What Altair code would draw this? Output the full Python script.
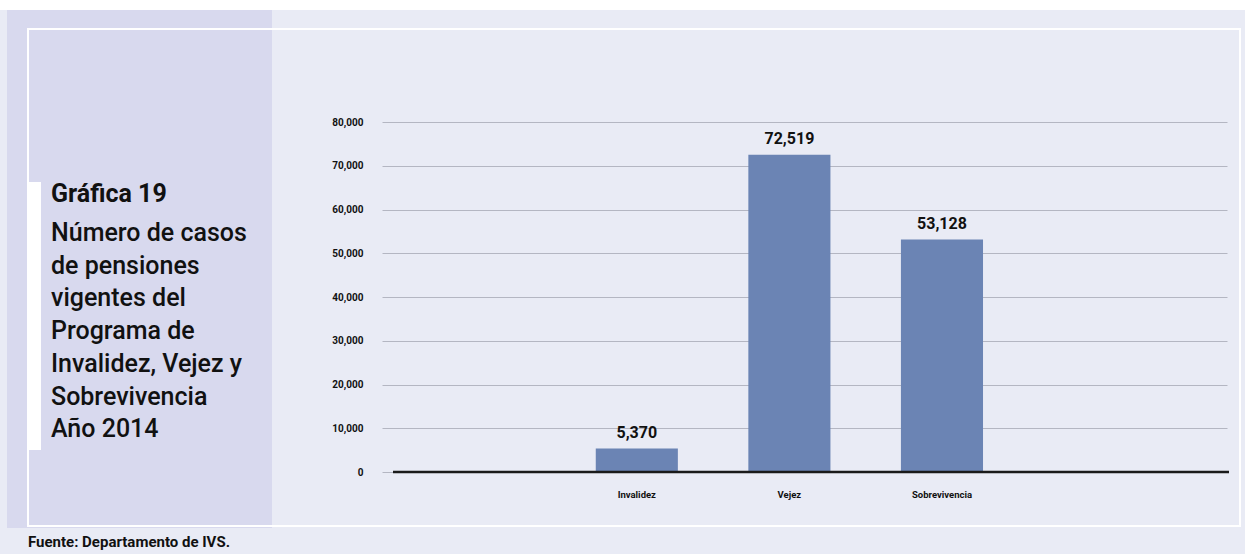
import altair as alt
import pandas as pd

categories = ["Invalidez", "Vejez", "Sobrevivencia"]
values = [5370, 72519, 53128]
x_domain = [" "] + categories + ["  "]
y_ticks = [0, 10000, 20000, 30000, 40000, 50000, 60000, 70000, 80000]
title_main = "Gráfica 19"
title_lines = ["Número de casos", "de pensiones", "vigentes del", "Programa de",
               "Invalidez, Vejez y", "Sobrevivencia", "Año 2014"]
footer = "Fuente: Departamento de IVS."

df = pd.DataFrame({"cat": categories, "val": values})
one = pd.DataFrame({"k": [0]})

NARROW = "Roboto"
W, H = 845, 350
L, T = 382, 122

def px(x):
    return x - L

def py(y):
    return y - T

def rect(x1, x2, y1, y2, **kw):
    return alt.Chart(one).mark_rect(**kw).encode(
        x=alt.value(px(x1)), x2=alt.value(px(x2)),
        y=alt.value(py(y1)), y2=alt.value(py(y2)))

top_strip = rect(0, 1245, 0, 10, color="white")
dark_col = rect(7, 272, 10, 528, color="#d8d9ee")
frame = rect(28, 1240, 29, 526, fillOpacity=0, stroke="white", strokeWidth=2)
tab = rect(28, 41, 182, 450, color="white")

xscale = alt.Scale(domain=x_domain, paddingInner=0.462, paddingOuter=0.5, align=0.401)
yscale = alt.Scale(domain=[0, 80000])

bars = alt.Chart(df).mark_bar(color="#6b84b4").encode(
    x=alt.X("cat:N", scale=xscale, sort=x_domain,
            axis=alt.Axis(title=None, labelAngle=0, ticks=False, tickSize=0, domain=False,
                          labelPadding=17, labelFont=NARROW, labelFontSize=9.5,
                          labelFontWeight="bold", labelColor="#111111", grid=False)),
    y=alt.Y("val:Q", scale=yscale,
            axis=alt.Axis(title=None, values=y_ticks, format=",.0f", ticks=False, tickSize=0,
                          domain=False, labelPadding=19, labelFont=NARROW, labelFontSize=10,
                          labelFontWeight="bold", labelColor="#111111",
                          grid=True, gridColor="#b4b6c2", gridWidth=1)),
)

labels = alt.Chart(df).mark_text(font=NARROW, fontSize=16, fontWeight="bold",
                                 color="#111111", baseline="bottom", dy=-8).encode(
    x=alt.X("cat:N", scale=xscale, sort=x_domain),
    y=alt.Y("val:Q", scale=yscale),
    text=alt.Text("val:Q", format=",.0f"),
)

baseline = alt.Chart(one).mark_rule(color="#1a1a1a", strokeWidth=2.5).encode(
    y=alt.datum(0), x=alt.value(px(393)), x2=alt.value(px(1229)))

t1 = alt.Chart(one).mark_text(font="Roboto", fontSize=25, fontWeight="bold", align="left",
                              baseline="alphabetic", color="#111111").encode(
    x=alt.value(px(51)), y=alt.value(py(202)), text=alt.value(title_main))
t2 = alt.Chart(one).mark_text(font="Roboto", fontSize=25, fontWeight=500, align="left",
                              baseline="alphabetic", color="#111111", lineHeight=32.7).encode(
    x=alt.value(px(51)), y=alt.value(py(241)), text=alt.value(title_lines))
t3 = alt.Chart(one).mark_text(font="Roboto", fontSize=15, fontWeight="bold", align="left",
                              baseline="alphabetic", color="#111111").encode(
    x=alt.value(px(28)), y=alt.value(py(547)), text=alt.value(footer))

chart = alt.layer(top_strip, dark_col, frame, tab, bars, baseline, labels, t1, t2, t3).properties(
    width=W, height=H,
    background="#e9ebf5",
    padding={"left": L, "top": T, "right": 1245 - L - W, "bottom": 554 - T - H},
    autosize=alt.AutoSizeParams(type="none"),
).configure_view(stroke=None, fill=None)

chart.save("out.html", embed_options={"renderer": "svg", "actions": False})
